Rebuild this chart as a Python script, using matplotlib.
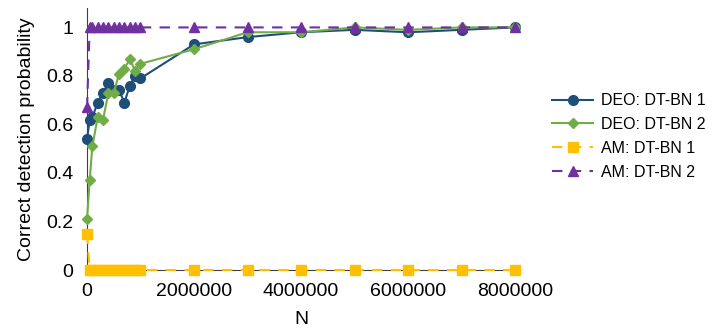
import matplotlib
matplotlib.use("Agg")
import matplotlib.pyplot as plt

plt.rcParams['font.family'] = ['Liberation Sans', 'DejaVu Sans']
plt.rcParams['font.size'] = 14

n_vals = [1000, 50000, 100000, 200000, 300000, 400000, 500000, 600000, 700000,
          800000, 900000, 1000000, 2000000, 3000000, 4000000, 5000000, 6000000,
          7000000, 8000000]
deo_bn1 = [0.54, 0.62, 0.63, 0.69, 0.73, 0.77, 0.74, 0.74, 0.69, 0.76, 0.80,
           0.79, 0.93, 0.96, 0.98, 0.99, 0.98, 0.99, 1.0]
deo_bn2 = [0.21, 0.37, 0.51, 0.63, 0.62, 0.73, 0.73, 0.81, 0.83, 0.87, 0.82,
           0.85, 0.91, 0.98, 0.98, 1.0, 0.99, 1.0, 1.0]
am_bn1 = [0.15, 0, 0, 0, 0, 0, 0, 0, 0, 0, 0, 0, 0, 0, 0, 0, 0, 0, 0]
am_bn2 = [0.67, 1, 1, 1, 1, 1, 1, 1, 1, 1, 1, 1, 1, 1, 1, 1, 1, 1, 1]

fig = plt.figure(figsize=(7.09, 3.28), dpi=100)
ax = fig.add_axes([0.1227, 0.1768, 0.6037, 0.7988])

ax.plot(n_vals, deo_bn1, color='#1f4e79', marker='o', markersize=7,
        linewidth=1.5, label='DEO: DT-BN 1', clip_on=False, zorder=3)
ax.plot(n_vals, deo_bn2, color='#70ad47', marker='D', markersize=5,
        linewidth=1.5, label='DEO: DT-BN 2', clip_on=False, zorder=3)
ax.plot(n_vals, am_bn1, color='#ffc000', marker='s', markersize=7,
        linewidth=1.5, linestyle=(0, (5, 4)), label='AM: DT-BN 1',
        clip_on=False, zorder=4)
ax.plot(n_vals, am_bn2, color='#7030a0', marker='^', markersize=7,
        linewidth=1.5, linestyle=(0, (5, 4)), label='AM: DT-BN 2',
        clip_on=False, zorder=4)

ax.set_xlim(0, 8000000)
ax.set_ylim(0, 1.08)
ax.set_xticks([0, 2000000, 4000000, 6000000, 8000000])
ax.set_xticklabels(['0', '2000000', '4000000', '6000000', '8000000'])
ax.set_yticks([0, 0.2, 0.4, 0.6, 0.8, 1])
ax.set_yticklabels(['0', '0.2', '0.4', '0.6', '0.8', '1'])
ax.tick_params(axis='y', length=0, pad=10)
ax.tick_params(axis='x', length=0, pad=9)

ax.spines['top'].set_visible(False)
ax.spines['right'].set_visible(False)
ax.spines['left'].set_color('#404040')
ax.spines['bottom'].set_color('#404040')

ax.set_xlabel('N', labelpad=8)
ax.set_ylabel('Correct detection probability', labelpad=8)

ax.legend(loc='center left', bbox_to_anchor=(1.086, 0.51), frameon=False,
          handlelength=2.6, handletextpad=0.45, borderpad=0, borderaxespad=0,
          labelspacing=0.55, fontsize=11.5)

fig.savefig('out.png', dpi=100)
